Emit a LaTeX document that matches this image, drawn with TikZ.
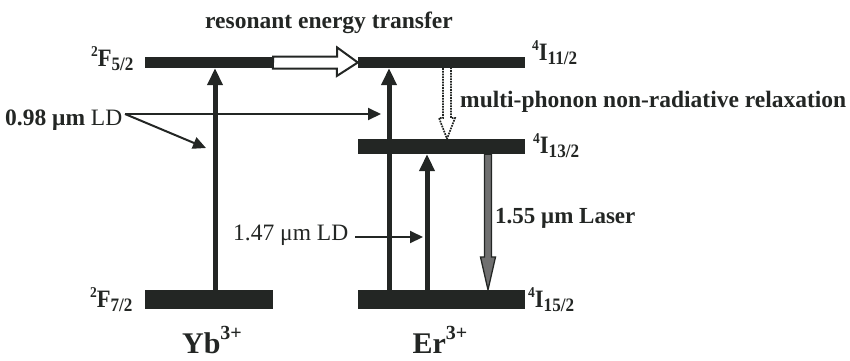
\documentclass[tikz,border=0pt]{standalone}
\usepackage{fontspec}
\setmainfont{Liberation Serif}
\usetikzlibrary{arrows.meta}
\definecolor{ink}{RGB}{35,38,36}
\definecolor{lasergray}{RGB}{112,112,112}
\newcommand{\lvlab}[3]{\scalebox{0.9}[1]{{\fontsize{15}{15}\selectfont\raisebox{10pt}{#1}}#2{\fontsize{19}{19}\selectfont\raisebox{-4.5pt}{#3}}}}
\newcommand{\ionlab}[2]{#1{\fontsize{20}{20}\selectfont\raisebox{14pt}{#2}}}
\begin{document}
\begin{tikzpicture}[x=1pt,y=-1pt,
  lvl/.style={fill=ink,draw=none,inner sep=0,minimum width=#1},
  txt/.style={inner sep=0,anchor=base west,text=ink,font=\fontsize{23.5}{23.5}\selectfont},
  lab/.style={inner sep=0,anchor=base west,text=ink,font=\fontsize{25}{25}\selectfont\bfseries},
  ion/.style={inner sep=0,anchor=base,text=ink,font=\fontsize{30}{30}\selectfont\bfseries},
  pump/.style={draw=ink,line width=5pt,-{Triangle[length=17pt,width=15pt]}},
  ldarrow/.style={draw=ink,line width=2pt,-{Triangle[length=13pt,width=12pt]}}]
\useasboundingbox (0,0) rectangle (850,360);
% levels
\node[lvl=128,minimum height=11] (yb1) at (209,62.5) {};
\node[lvl=128,minimum height=19] (yb0) at (209,299.5) {};
\node[lvl=167,minimum height=11] (er1) at (441.5,62.5) {};
\node[lvl=167,minimum height=15] (er2) at (441.5,146.5) {};
\node[lvl=167,minimum height=19] (er0) at (441.5,299.5) {};
% labels
\node[txt,font=\fontsize{23.5}{23.5}\selectfont\bfseries] (ret) at (205,28) {resonant energy transfer};
\node[txt,font=\fontsize{23.5}{23.5}\selectfont\bfseries] (mpr) at (460,107) {multi-phonon non-radiative relaxation};
\node[lab] (l1) at (91,66) {\lvlab{2}{F}{5/2}};
\node[lab] (l0) at (90,307) {\lvlab{2}{F}{7/2}};
\node[lab] (m1) at (532,60) {\lvlab{4}{I}{11/2}};
\node[lab] (m2) at (533,153) {\lvlab{4}{I}{13/2}};
\node[lab] (m0) at (528,307) {\lvlab{4}{I}{15/2}};
\node[ion] (yb) at (212,353) {\ionlab{Yb}{3+}};
\node[ion] (er) at (440,353) {\ionlab{Er}{3+}};
\node[txt] (ld98) at (5,125) {\textbf{0.98 μm} LD};
\node[txt] (ld147) at (233,240) {1.47 μm LD};
\node[txt,font=\fontsize{23}{23}\selectfont\bfseries] (las) at (495,223) {1.55 μm Laser};
% pump arrows
\draw[pump] (215,0 |- yb0.north) -- (215,0 |- yb1.south);
\draw[pump] (389,0 |- er0.north) -- (389,0 |- er1.south);
\draw[pump] (427,0 |- er0.north) -- (427,0 |- er2.south);
% LD arrows
\coordinate (ldstart) at (125,114);
\coordinate (ldtip1) at (381,114);
\coordinate (ldtip2) at (206,148);
\coordinate (ldstart2) at (355,237);
\coordinate (ldtip3) at (423,237);
\draw[ldarrow] (ldstart) -- (ldtip1);
\draw[ldarrow] (ldstart) -- (ldtip2);
\draw[ldarrow] (ldstart2) -- (ldtip3);
% resonant energy transfer hollow arrow
\draw[draw=ink,fill=white,line width=2pt,line join=miter]
  (yb1.east) ++(0,-6) -- ++(64,0) -- ++(0,-9) -- (er1.west) -- ++(-21,13.5) -- ++(0,-7.5) -- ++(-64,0) -- cycle;
% dotted relaxation arrow
\draw[draw=ink,line width=1.7pt,densely dotted]
  (443,0 |- er1.south) -- (443,118) -- (439,118) -- (447,0 |- er2.north) -- (455,118) -- (451,118) -- (451,0 |- er1.south);
% laser arrow
\draw[draw=ink,fill=lasergray,line width=1.3pt,line join=miter]
  (484.5,0 |- er2.south) -- (484.5,257) -- (480.5,257) -- (488,0 |- er0.north) -- (495.5,257) -- (491.5,257) -- (491.5,0 |- er2.south) -- cycle;
\end{tikzpicture}
\end{document}
